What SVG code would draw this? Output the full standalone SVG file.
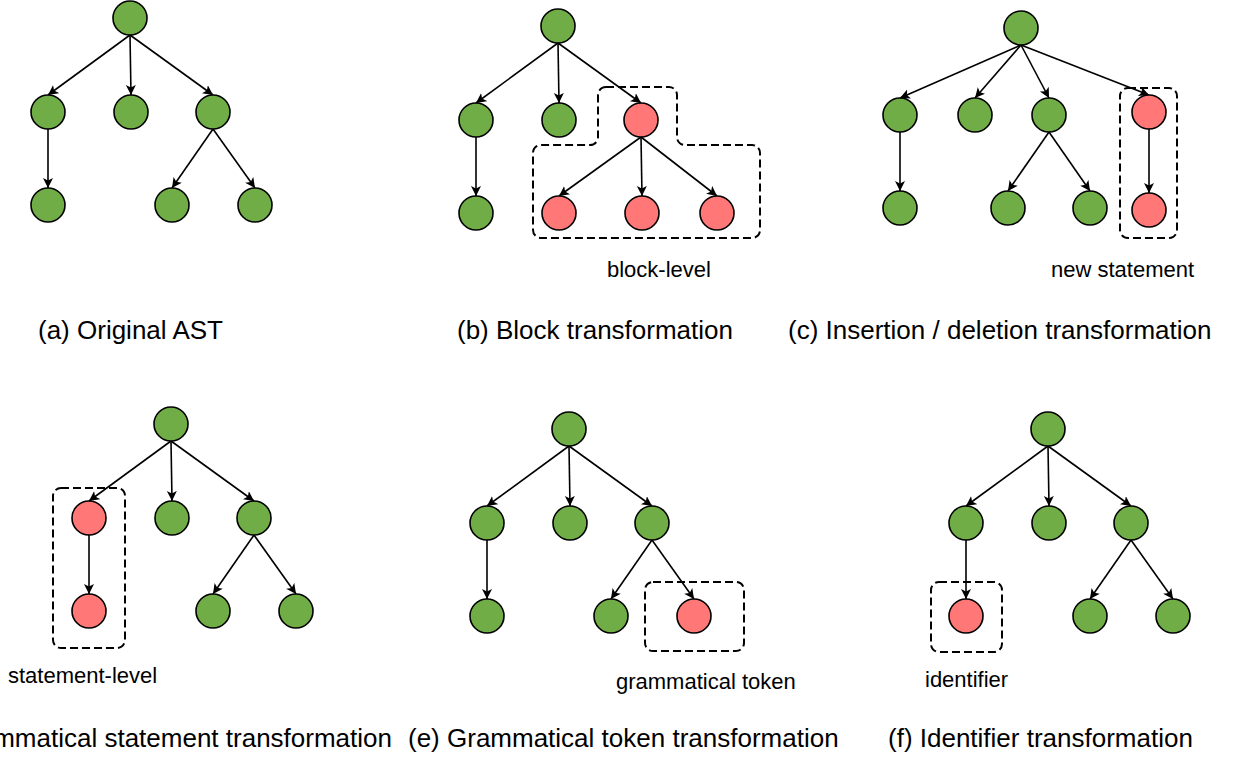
<svg xmlns="http://www.w3.org/2000/svg" width="1237" height="757" viewBox="0 0 1237 757">
<style>
.g{fill:#70AD47;stroke:#000;stroke-width:1.6}
.r{fill:#FF7777;stroke:#000;stroke-width:1.6}
.e{fill:none;stroke:#000;stroke-width:1.6;marker-end:url(#arrow)}
.d{fill:none;stroke:#000;stroke-width:2;stroke-dasharray:8 4}
.cap{font-family:"Liberation Sans",Arial,sans-serif;font-size:26px;fill:#000}
.lab{font-family:"Liberation Sans",Arial,sans-serif;font-size:22px;fill:#000}
</style>
<defs>
<marker id="arrow" markerUnits="userSpaceOnUse" markerWidth="12" markerHeight="12" refX="10" refY="5" orient="auto">
<path d="M0,0 L10,5 L0,10 L2.5,5 Z" fill="#000"/>
</marker>
</defs>
<rect width="1237" height="757" fill="#fff"/>

<!-- (a) -->
<g id="panel-a">
<g id="a-edges">
<path class="e" d="M130,35 L48,95"/><path class="e" d="M130,35 L131,95"/><path class="e" d="M130,35 L213,95"/>
<path class="e" d="M48,129 L48,188"/><path class="e" d="M213,129 L172,188"/><path class="e" d="M213,129 L255,188"/>
</g>
<g id="a-root"><circle class="g" cx="130" cy="18" r="17"/></g>
<g id="a-n1"><circle class="g" cx="48" cy="112" r="17"/></g>
<g id="a-n2"><circle class="g" cx="131" cy="112" r="17"/></g>
<g id="a-n3"><circle class="g" cx="213" cy="112" r="17"/></g>
<g id="a-n4"><circle class="g" cx="48" cy="205" r="17"/></g>
<g id="a-n5"><circle class="g" cx="172" cy="205" r="17"/></g>
<g id="a-n6"><circle class="g" cx="255" cy="205" r="17"/></g>
</g>

<!-- (b) -->
<g id="panel-b" transform="translate(428,8)">
<g id="b-edges">
<path class="e" d="M130,35 L48,95"/><path class="e" d="M130,35 L131,95"/><path class="e" d="M130,35 L213,95"/>
<path class="e" d="M48,129 L48,188"/><path class="e" d="M213,129 L131,188"/><path class="e" d="M213,129 L214,188"/><path class="e" d="M213,129 L289,188"/>
</g>
<g id="b-root"><circle class="g" cx="130" cy="18" r="17"/></g>
<g id="b-n1"><circle class="g" cx="48" cy="112" r="17"/></g>
<g id="b-n2"><circle class="g" cx="131" cy="112" r="17"/></g>
<g id="b-n3"><circle class="r" cx="213" cy="112" r="17"/></g>
<g id="b-n4"><circle class="g" cx="48" cy="205" r="17"/></g>
<g id="b-n5"><circle class="r" cx="131" cy="205" r="17"/></g>
<g id="b-n6"><circle class="r" cx="214" cy="205" r="17"/></g>
<g id="b-n7"><circle class="r" cx="289" cy="205" r="17"/></g>
</g>
<g id="b-group"><path class="d" d="M606,87 H669 A8,8 0 0 1 677,95 V137 A8,8 0 0 0 685,145 H752 A8,8 0 0 1 760,153 V230 A8,8 0 0 1 752,238 H541 A8,8 0 0 1 533,230 V153 A8,8 0 0 1 541,145 H590 A8,8 0 0 0 598,137 V95 A8,8 0 0 1 606,87 Z"/></g>

<!-- (c) -->
<g id="panel-c">
<g id="c-edges">
<path class="e" d="M1021,45 L900,98"/><path class="e" d="M1021,45 L975,98"/><path class="e" d="M1021,45 L1049,98"/><path class="e" d="M1021,45 L1149,95"/>
<path class="e" d="M900,132 L900,191"/><path class="e" d="M1049,132 L1008,191"/><path class="e" d="M1049,132 L1090,191"/><path class="e" d="M1149,129 L1149,193"/>
</g>
<g id="c-root"><circle class="g" cx="1021" cy="28" r="17"/></g>
<g id="c-n1"><circle class="g" cx="900" cy="115" r="17"/></g>
<g id="c-n2"><circle class="g" cx="975" cy="115" r="17"/></g>
<g id="c-n3"><circle class="g" cx="1049" cy="115" r="17"/></g>
<g id="c-n4"><circle class="r" cx="1149" cy="112" r="17"/></g>
<g id="c-n5"><circle class="g" cx="900" cy="208" r="17"/></g>
<g id="c-n6"><circle class="g" cx="1008" cy="208" r="17"/></g>
<g id="c-n7"><circle class="g" cx="1090" cy="208" r="17"/></g>
<g id="c-n8"><circle class="r" cx="1149" cy="210" r="17"/></g>
<g id="c-group"><rect class="d" x="1120" y="88" width="57" height="150" rx="8"/></g>
</g>

<!-- (d) -->
<g id="panel-d" transform="translate(41,406)">
<g id="d-edges">
<path class="e" d="M130,35 L48,95"/><path class="e" d="M130,35 L131,95"/><path class="e" d="M130,35 L213,95"/>
<path class="e" d="M48,129 L48,188"/><path class="e" d="M213,129 L172,188"/><path class="e" d="M213,129 L255,188"/>
</g>
<g id="d-root"><circle class="g" cx="130" cy="18" r="17"/></g>
<g id="d-n1"><circle class="r" cx="48" cy="112" r="17"/></g>
<g id="d-n2"><circle class="g" cx="131" cy="112" r="17"/></g>
<g id="d-n3"><circle class="g" cx="213" cy="112" r="17"/></g>
<g id="d-n4"><circle class="r" cx="48" cy="205" r="17"/></g>
<g id="d-n5"><circle class="g" cx="172" cy="205" r="17"/></g>
<g id="d-n6"><circle class="g" cx="255" cy="205" r="17"/></g>
</g>
<g id="d-group"><rect class="d" x="53" y="488" width="72" height="160" rx="8"/></g>

<!-- (e) -->
<g id="panel-e" transform="translate(439,411)">
<g id="e-edges">
<path class="e" d="M130,35 L48,95"/><path class="e" d="M130,35 L131,95"/><path class="e" d="M130,35 L213,95"/>
<path class="e" d="M48,129 L48,188"/><path class="e" d="M213,129 L172,188"/><path class="e" d="M213,129 L255,188"/>
</g>
<g id="e-root"><circle class="g" cx="130" cy="18" r="17"/></g>
<g id="e-n1"><circle class="g" cx="48" cy="112" r="17"/></g>
<g id="e-n2"><circle class="g" cx="131" cy="112" r="17"/></g>
<g id="e-n3"><circle class="g" cx="213" cy="112" r="17"/></g>
<g id="e-n4"><circle class="g" cx="48" cy="205" r="17"/></g>
<g id="e-n5"><circle class="g" cx="172" cy="205" r="17"/></g>
<g id="e-n6"><circle class="r" cx="255" cy="205" r="17"/></g>
</g>
<g id="e-group"><rect class="d" x="645" y="582" width="99" height="69" rx="8"/></g>

<!-- (f) -->
<g id="panel-f" transform="translate(918,411)">
<g id="f-edges">
<path class="e" d="M130,35 L48,95"/><path class="e" d="M130,35 L131,95"/><path class="e" d="M130,35 L213,95"/>
<path class="e" d="M48,129 L48,188"/><path class="e" d="M213,129 L172,188"/><path class="e" d="M213,129 L255,188"/>
</g>
<g id="f-root"><circle class="g" cx="130" cy="18" r="17"/></g>
<g id="f-n1"><circle class="g" cx="48" cy="112" r="17"/></g>
<g id="f-n2"><circle class="g" cx="131" cy="112" r="17"/></g>
<g id="f-n3"><circle class="g" cx="213" cy="112" r="17"/></g>
<g id="f-n4"><circle class="r" cx="48" cy="205" r="17"/></g>
<g id="f-n5"><circle class="g" cx="172" cy="205" r="17"/></g>
<g id="f-n6"><circle class="g" cx="255" cy="205" r="17"/></g>
</g>
<g id="f-group"><rect class="d" x="931" y="582" width="71" height="70" rx="8"/></g>

<g id="labels">
<text class="lab" x="607" y="277">block-level</text>
<text class="lab" x="1051" y="277">new statement</text>
<text class="lab" x="8" y="683">statement-level</text>
<text class="lab" x="616" y="689">grammatical token</text>
<text class="lab" x="925" y="687">identifier</text>
</g>
<g id="captions">
<text class="cap" x="38" y="339">(a) Original AST</text>
<text class="cap" x="457" y="339">(b) Block transformation</text>
<text class="cap" x="788" y="339">(c) Insertion / deletion transformation</text>
<text class="cap" x="392" y="747" text-anchor="end">(d) Grammatical statement transformation</text>
<text class="cap" x="408" y="747">(e) Grammatical token transformation</text>
<text class="cap" x="888" y="747">(f) Identifier transformation</text>
</g>
</svg>
